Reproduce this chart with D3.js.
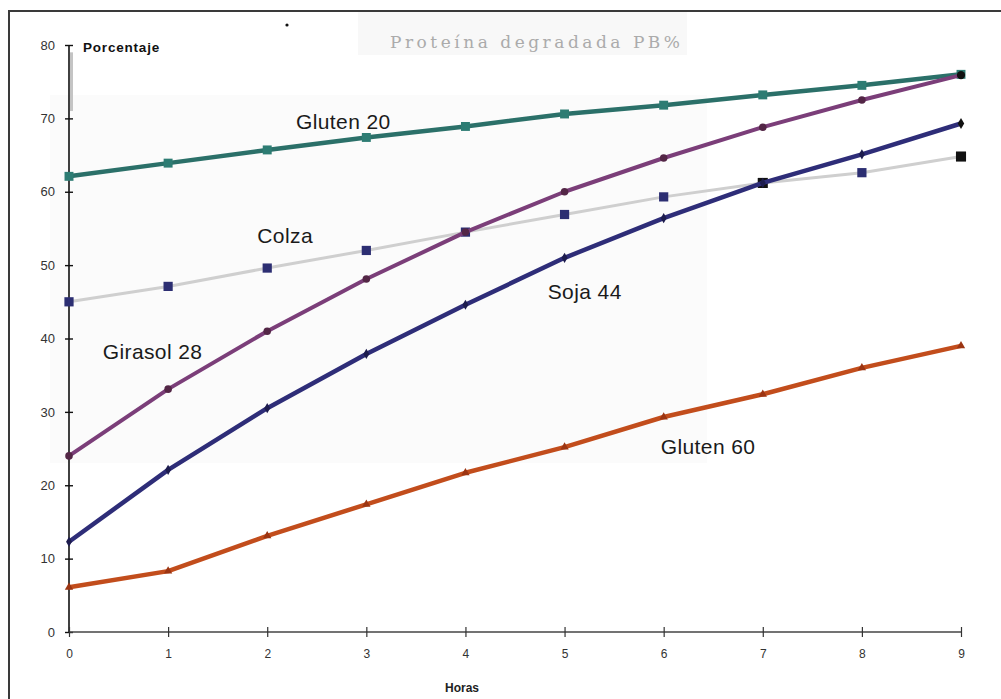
<!DOCTYPE html>
<html>
<head>
<meta charset="utf-8">
<script src="https://cdn.jsdelivr.net/npm/d3@7"></script>
<style>
  body { margin: 0; background: #fff; }
  svg { display: block; font-family: "Liberation Sans", Arial, sans-serif; }
</style>
</head>
<body>
<div id="chart"></div>
<script>
// data
const hours = [0, 1, 2, 3, 4, 5, 6, 7, 8, 9];
const gluten20 = [62.1, 63.9, 65.7, 67.4, 68.9, 70.6, 71.8, 73.2, 74.5, 76.0];
const girasol28 = [24.0, 33.1, 41.0, 48.1, 54.5, 60.0, 64.6, 68.8, 72.5, 75.9];
const colza = [45.0, 47.1, 49.6, 52.0, 54.5, 56.9, 59.3, 61.2, 62.6, 64.8];
const soja44 = [12.3, 22.1, 30.5, 37.9, 44.6, 51.0, 56.4, 61.2, 65.1, 69.3];
const gluten60 = [6.1, 8.3, 13.1, 17.4, 21.7, 25.2, 29.3, 32.4, 36.0, 39.0];
const yTicks = [0, 10, 20, 30, 40, 50, 60, 70, 80];

// series labels: [text, hour, value] where the text sits
const labels = [
  ["Gluten 20", 2.29, 68.6],
  ["Colza", 1.9, 53.0],
  ["Girasol 28", 0.34, 37.2],
  ["Soja 44", 4.83, 45.4],
  ["Gluten 60", 5.97, 24.3]
];

const W = 1001, H = 699;
const x = d3.scaleLinear().domain([0, 9]).range([69, 961]);
const y = d3.scaleLinear().domain([0, 80]).range([632, 45]);

const svg = d3.select("#chart").append("svg")
  .attr("width", W).attr("height", H);

// scan look: title box and faint plot patch
svg.append("rect").attr("x", 50).attr("y", 95).attr("width", 657).attr("height", 368)
  .attr("fill", "#fbfbfb");
svg.append("rect").attr("x", 358).attr("y", 12).attr("width", 329).attr("height", 43)
  .attr("fill", "#f8f8f8");

// frame (top and left only)
svg.append("path").attr("d", "M9,699V11H1001")
  .attr("fill", "none").attr("stroke", "#3a3a3a").attr("stroke-width", 2);
svg.append("circle").attr("cx", 287).attr("cy", 25).attr("r", 1.6).attr("fill", "#111");

svg.append("text")
  .attr("x", 390).attr("y", 48)
  .attr("textLength", 290).attr("lengthAdjust", "spacing")
  .attr("font-family", "'DejaVu Serif', 'Liberation Serif', serif")
  .attr("font-size", 17).attr("fill", "#ababab")
  .text("Proteína degradada PB%");

// axes
const yAxis = svg.append("g").attr("transform", `translate(${x(0)},0)`)
  .call(d3.axisLeft(y).tickValues(yTicks).tickSize(4).tickPadding(10));
yAxis.select(".domain").attr("d", `M0,${y(80)}V${y(0)}`).attr("stroke", "#111").attr("stroke-width", 1.6);
yAxis.selectAll(".tick line").attr("x1", 4).attr("x2", -4).attr("stroke", "#111").attr("stroke-width", 1.4);
yAxis.selectAll(".tick text").attr("font-size", 13).attr("fill", "#333")
  .attr("font-family", "'Liberation Sans', Arial, sans-serif");
// light smear next to the top of the y axis
svg.append("rect").attr("x", x(0) + 1).attr("y", y(79)).attr("width", 3).attr("height", y(71) - y(79))
  .attr("fill", "#c4c4c4");

const xAxis = svg.append("g").attr("transform", `translate(0,${y(0)})`)
  .call(d3.axisBottom(x).tickValues(hours).tickSize(5).tickPadding(12));
xAxis.select(".domain").attr("d", `M${x(0)},0H${x(9)}`).attr("stroke", "#444").attr("stroke-width", 1.6);
xAxis.selectAll(".tick line").attr("y1", -5).attr("y2", 5).attr("stroke", "#333").attr("stroke-width", 1.2);
xAxis.selectAll(".tick text").attr("font-size", 12).attr("fill", "#333")
  .attr("font-family", "'Liberation Sans', Arial, sans-serif");

svg.append("text").attr("x", 83).attr("y", 52)
  .attr("font-size", 13.5).attr("font-weight", "bold").attr("letter-spacing", 0.8).attr("fill", "#111")
  .text("Porcentaje");
svg.append("text").attr("x", 462).attr("y", 692).attr("text-anchor", "middle")
  .attr("font-size", 12).attr("font-weight", "bold").attr("fill", "#222")
  .text("Horas");

// series
const series = [
  { values: colza, color: "#cfcfcf", width: 3, marker: d3.symbolSquare, size: 85, fill: "#2c2e72", black: [7, 9] },
  { values: gluten60, color: "#c24d1c", width: 4.5, marker: d3.symbolTriangle, size: 30, fill: "#9c3512", black: [] },
  { values: soja44, color: "#2e2d78", width: 4.5, marker: d3.symbolDiamond, size: 30, fill: "#1d1c4e", black: [9] },
  { values: gluten20, color: "#2b7069", width: 4.5, marker: d3.symbolSquare, size: 80, fill: "#2d7c73", black: [] },
  { values: girasol28, color: "#7b3e79", width: 4, marker: d3.symbolCircle, size: 45, fill: "#532646", black: [9] }
];

const line = d3.line().x((d, i) => x(hours[i])).y(d => y(d));

series.forEach(s => {
  svg.append("path").datum(s.values)
    .attr("fill", "none").attr("stroke", s.color)
    .attr("stroke-width", s.width).attr("stroke-linejoin", "round")
    .attr("d", line);

  svg.append("g").selectAll("path")
    .data(s.values)
    .join("path")
    .attr("transform", (d, i) => `translate(${x(hours[i])},${y(d)})`)
    .attr("d", (d, i) => d3.symbol(s.marker, s.black.includes(i) ? s.size * 1.2 : s.size)())
    .attr("fill", (d, i) => s.black.includes(i) ? "#111" : s.fill);
});

// series names
svg.append("g").selectAll("text")
  .data(labels)
  .join("text")
  .attr("x", d => x(d[1]))
  .attr("y", d => y(d[2]))
  .attr("font-size", 21).attr("fill", "#1a1a1a").attr("letter-spacing", 0.4)
  .text(d => d[0]);
</script>
</body>
</html>
